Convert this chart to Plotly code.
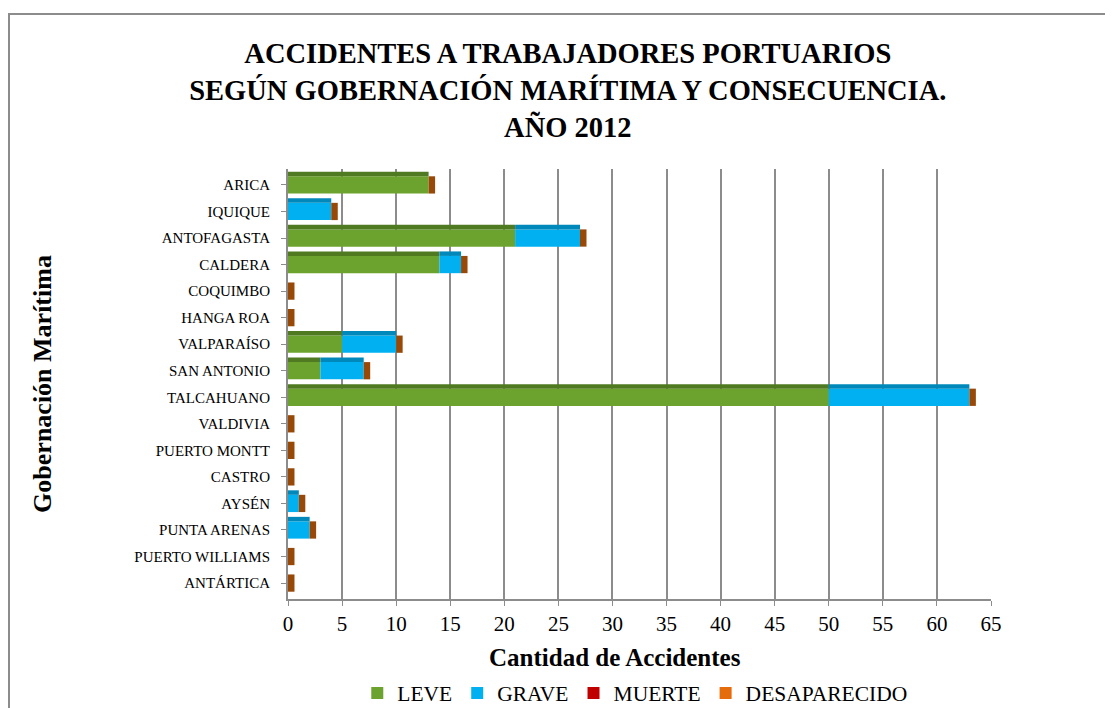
import plotly.graph_objects as go

categorias = ["ARICA", "IQUIQUE", "ANTOFAGASTA", "CALDERA", "COQUIMBO", "HANGA ROA",
              "VALPARAÍSO", "SAN ANTONIO", "TALCAHUANO", "VALDIVIA", "PUERTO MONTT",
              "CASTRO", "AYSÉN", "PUNTA ARENAS", "PUERTO WILLIAMS", "ANTÁRTICA"]
leve = [13, 0, 21, 14, 0, 0, 5, 3, 50, 0, 0, 0, 0, 0, 0, 0]
grave = [0, 4, 6, 2, 0, 0, 5, 4, 13, 0, 0, 0, 1, 2, 0, 0]
muerte = [0] * 16
desaparecido = [0] * 16
x_ticks = list(range(0, 70, 5))

series = [("LEVE", leve, "#6CA32F", "#4F7A21"), ("GRAVE", grave, "#00B0F0", "#0088BA"),
          ("MUERTE", muerte, "#C00000", "#8F0000"), ("DESAPARECIDO", desaparecido, "#E46C0A", "#984807")]

font_fam = "Liberation Serif, DejaVu Serif, serif"
BW = 0.65
fig = go.Figure()
base = [0] * 16
for name, vals, col, dark in series:
    fig.add_trace(go.Bar(y=categorias, x=vals, base=list(base), name=name, orientation="h",
                         marker=dict(color=col, line=dict(width=0)), width=BW))
    # top face of the 3D bar
    fig.add_trace(go.Bar(y=categorias, x=vals, base=list(base), orientation="h",
                         marker=dict(color=dark, line=dict(width=0)), width=0.17,
                         offset=-BW / 2 - 0.17, showlegend=False, hoverinfo="skip"))
    base = [b + v for b, v in zip(base, vals)]

# side face of the 3D bars (decorative end cap)
totales = base
fig.add_trace(go.Bar(y=categorias, x=[0.6] * 16, base=totales, orientation="h",
                     marker=dict(color="#984807", line=dict(width=0)), width=BW,
                     showlegend=False, hoverinfo="skip"))

L, R, T, B = 280, 130, 161, 117
PH = 708 - T - B
PW = 1113 - L - R

fig.update_layout(
    barmode="overlay",
    width=1113, height=708,
    paper_bgcolor="white", plot_bgcolor="white",
    font=dict(family=font_fam, color="black"),
    title=dict(text="<b>ACCIDENTES A TRABAJADORES PORTUARIOS<br>SEGÚN GOBERNACIÓN MARÍTIMA Y CONSECUENCIA.<br>AÑO 2012</b>",
               x=0.503, xanchor="center", y=0.922, yanchor="top",
               font=dict(size=28.5, family=font_fam)),
    margin=dict(l=L, r=R, t=T, b=B),
    legend=dict(orientation="h", x=0.494, xanchor="center", xref="paper",
                yref="container", y=1 - 685 / 708, yanchor="middle",
                font=dict(size=21.5), traceorder="normal", itemwidth=30),
    xaxis=dict(range=[0, 65], tickvals=x_ticks, ticktext=[str(v) for v in x_ticks],
               automargin=False,
               showgrid=True, gridcolor="#8C8C8C", gridwidth=2,
               showline=True, linecolor="#8C8C8C", linewidth=2,
               ticks="outside", tickcolor="#8C8C8C", ticklen=5,
               ticklabelstandoff=0,
               tickfont=dict(size=21),
               zeroline=False),
    yaxis=dict(range=[15.6, -0.6], automargin=False,
               showline=True, linecolor="#8C8C8C", linewidth=2,
               ticks="outside", tickcolor="#8C8C8C", ticklen=5,
               ticklabelstandoff=8,
               tickfont=dict(size=15),
               title=dict(text="<b>Gobernación Marítima</b>", font=dict(size=26), standoff=75)),
)
fig.add_annotation(text="<b>Cantidad de Accidentes</b>", xref="paper", yref="paper",
                   x=(607 - L) / PW, y=-58 / PH, xanchor="center", yanchor="middle",
                   showarrow=False, font=dict(size=25))
fig.add_shape(type="rect", xref="paper", yref="paper",
              x0=(1 - L) / PW, x1=1.4, y0=-0.6, y1=(708 - B - 6) / PH,
              line=dict(color="#8C8C8C", width=2), layer="below")
fig.write_html("out.html")
